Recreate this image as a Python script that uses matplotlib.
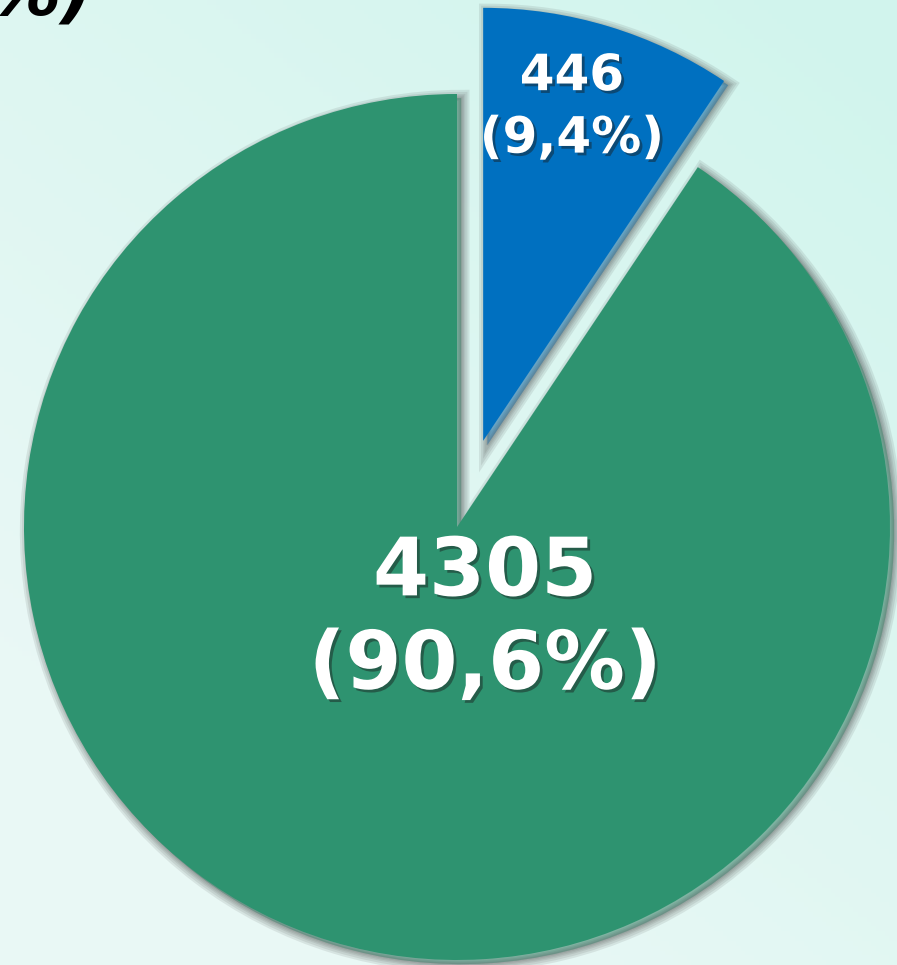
#!/usr/bin/env python
# -*- coding: utf-8 -*-
""" exploded pie of two counts with percentage labels """

import numpy as np
import matplotlib
matplotlib.use('Agg')
import matplotlib.pyplot as plt
import matplotlib.patheffects as pe

values = [446, 4305]
colors = ['#0070c0', '#2e9370']
explode_frac = [0.208, 0.0]
title_tail = '%)'

W, H = 897, 965
fig = plt.figure(figsize=(W / 100, H / 100), dpi=100)

# background gradient, mint top right fading to near white
bg = fig.add_axes([0, 0, 1, 1])
bg.set_axis_off()
xx, yy = np.meshgrid(np.linspace(0, 1, 200), np.linspace(0, 1, 200))
w = np.clip(0.55 * xx + 0.75 * (1 - yy) - 0.25, 0, 1)
w = 0.3 + 0.7 * w
white = np.array([0.955, 0.978, 0.976])
mint = np.array([0.82, 0.96, 0.93])
img = white[None, None, :] * (1 - w[..., None]) + mint[None, None, :] * w[..., None]
bg.imshow(img, extent=[0, 1, 0, 1], aspect='auto', origin='upper')

ax = fig.add_axes([0, 0, 1, 1])
ax.set_axis_off()
ax.patch.set_alpha(0)

cx, cy, r = 457, H - 527, 433
# pie's explode is in data units, so scale by the radius
wedges, _ = ax.pie(values, colors=colors, explode=[e * r for e in explode_frac],
                   startangle=90, counterclock=False, center=(cx, cy), radius=r,
                   wedgeprops=dict(linewidth=0))
ax.set_aspect('equal')
ax.set_xlim(0, W)
ax.set_ylim(0, H)

shadow = [pe.Stroke(linewidth=lw, foreground='#444444', alpha=0.11,
                    offset=(3, -3)) for lw in (12, 9, 6, 4, 2)]
for wd in wedges:
    wd.set_path_effects(shadow + [pe.Normal()])

total = sum(values)
labels = ['%d\n(%s%%)' % (v, ('%.1f' % (100.0 * v / total)).replace('.', ','))
          for v in values]

txt_fx = [pe.SimplePatchShadow(offset=(2, -2), shadow_rgbFace='#1a1a1a', alpha=0.45),
          pe.Normal()]

# small slice label, along the slice middle
wb = wedges[0]
mid = np.deg2rad((wb.theta1 + wb.theta2) / 2)
bx, by = wb.center
ax.text(bx + 0.80 * r * np.cos(mid) - 12, by + 0.80 * r * np.sin(mid) + 2,
        labels[0], ha='center', va='center', color='white', fontsize=36,
        fontweight='bold', linespacing=1.38, path_effects=txt_fx)

# big slice label, just below the centre
ax.text(cx + 28, cy - 93, labels[1], ha='center', va='center', color='white',
        fontsize=58, fontweight='bold', linespacing=1.25, path_effects=txt_fx)

fig.text(93 / W, 1 - 14 / H, title_tail, ha='right', va='baseline',
         fontsize=52, fontweight='bold', style='italic', color='black')

fig.savefig('out.png', dpi=100)
